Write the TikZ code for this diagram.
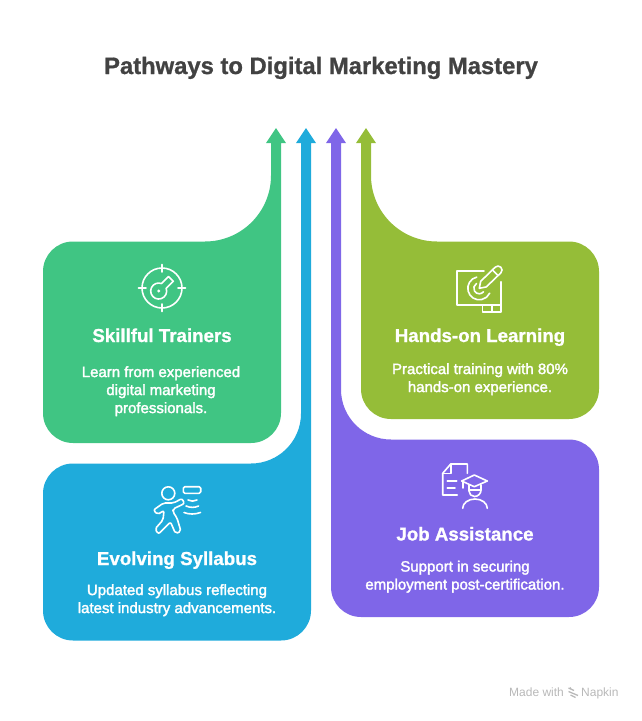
\documentclass[tikz,border=0pt]{standalone}
\usepackage{fontspec}
\setmainfont{Liberation Sans}
\newfontfamily\descfont[FakeBold=2]{Liberation Sans}
\newfontfamily\headfont[FakeBold=1]{Liberation Sans Bold}
\usetikzlibrary{positioning}
\definecolor{trainers}{HTML}{40C583}
\definecolor{syllabus}{HTML}{1FABDB}
\definecolor{assist}{HTML}{7F66E8}
\definecolor{handson}{HTML}{95BD38}
\definecolor{titlegray}{HTML}{424242}
\definecolor{markgray}{HTML}{B8B8B8}
\tikzset{
    heading/.style={text=white, font=\fontsize{18.7}{20}\selectfont\headfont, inner sep=0pt, anchor=base, text centered},
    desc/.style={text=white, font=\fontsize{15}{18}\selectfont\descfont, inner sep=0pt, align=center},
    icon/.style={draw=white, line width=1.6pt, line join=round, line cap=round}
}

\begin{document}
\begin{tikzpicture}[x=1pt, y=-1pt]
    \useasboundingbox (0,0) rectangle (642,721);

    \node[text=titlegray, font=\fontsize{23.8}{28}\selectfont\headfont, inner sep=0pt, anchor=base] (title) at (321,74) {Pathways to Digital Marketing Mastery};

    % the four arrows
    \fill[trainers] (276,128) -- (286,143) -- (281,143) -- (281,413) arc (0:90:30) -- (73,443) arc (90:180:30) -- (43,271.5) arc (180:270:30) -- (205,241.5) arc (90:0:66) -- (271,143) -- (266,143) -- cycle;
    \fill[syllabus] (306,128) -- (316,143) -- (311,143) -- (311,610.5) arc (0:90:30) -- (73,640.5) arc (90:180:30) -- (43,493.5) arc (180:270:30) -- (251,463.5) arc (90:0:50) -- (301,143) -- (296,143) -- cycle;
    \fill[assist] (336,128) -- (346,143) -- (341,143) -- (341,389.5) arc (180:90:50) -- (569,439.5) arc (270:360:30) -- (599,587) arc (0:90:30) -- (361,617) arc (90:180:30) -- (331,143) -- (326,143) -- cycle;
    \fill[handson] (366,128) -- (376,143) -- (371,143) -- (371,175.5) arc (180:90:66) -- (569,241.5) arc (270:360:30) -- (599,389) arc (0:90:30) -- (391,419) arc (90:180:30) -- (361,143) -- (356,143) -- cycle;

    % texts
    \node[heading] (trainers_head) at (162,342) {Skillful Trainers};
    \node[desc, below = 24pt of trainers_head.base, anchor=north, xshift=-1pt] (trainers_desc) {Learn from experienced\\digital marketing\\professionals.};
    \node[heading] (handson_head) at (480,342) {Hands-on Learning};
    \node[desc, below = 21pt of handson_head.base, anchor=north] (handson_desc) {Practical training with 80\%\\hands-on experience.};
    \node[heading] (syllabus_head) at (177,565) {Evolving Syllabus};
    \node[desc, below = 19pt of syllabus_head.base, anchor=north] (syllabus_desc) {Updated syllabus reflecting\\latest industry advancements.};
    \node[heading] (assist_head) at (465,540.5) {Job Assistance};
    \node[desc, below = 20pt of assist_head.base, anchor=north] (assist_desc) {Support in securing\\employment post-certification.};

    % key in a target
    \draw[icon] (162,288) circle (20);
    \draw[icon] (162,264.5) -- (162,272) (162,304) -- (162,311.5) (138.5,288) -- (146,288) (178,288) -- (185.5,288);
    \draw[icon] (166.2,288.3) arc (-20:290:8) -- (168.5,276.5) -- (173.3,281.3) -- cycle;
    \fill[white] (158.7,291) circle (1.6);

    % tablet and pencil
    \draw[icon] (484,270.7) -- (456.7,270.7) -- (456.7,305) -- (501,305);
    \draw[icon] (501,281.7) -- (501,311.7) -- (482.5,311.7) -- (482.5,305) (492,305) -- (492,311.7);
    \draw[icon] (479.3,288.3) -- (480.7,281.3) -- (495.2,267.2) arc (-135:45:4) -- (486.3,286.9) -- cycle;
    \draw[icon] (492.6,270) -- (498,275.4);
    \draw[icon] (476.7,277.1) arc (257:25:11.5);
    \draw[icon] (476.5,283.5) arc (240:40:5.5);

    % runner
    \draw[icon] (168.3,493.3) circle (6.5);
    \draw[icon, rounded corners=1.5pt] (183.3,486.7) rectangle (200.7,493.3);
    \draw[icon, rounded corners=2pt] (182,498.5) -- (173.5,503) -- (163.5,503) -- (153.5,510) -- (157.5,514.5) -- (164,510.5) -- (163,520) -- (155,529) -- (158.5,534) -- (170.5,522) -- (175.5,533.5) -- (181,531.5) -- (177,518) -- (173,512) -- (173,509) -- (184.5,503.5) -- cycle;
    \draw[icon] (188,500) .. controls (191,501.5) and (194,501.5) .. (197,500);
    \draw[icon] (186,506) .. controls (190,507.8) and (195,507.8) .. (198.5,506);
    \draw[icon] (184,512.5) .. controls (189,514.5) and (195,514.5) .. (200.5,512.5);

    % document and graduate
    \draw[icon] (467.3,473.3) -- (467.3,464) -- (450.7,464) -- (442.7,473.3) -- (442.7,495) -- (457.3,495);
    \draw[icon] (450.7,464) -- (450.7,473.3) -- (442.7,473.3);
    \draw[icon] (447.3,481) -- (456.7,481) (447.3,487.7) -- (455,487.7);
    \draw[icon] (461.7,481) -- (474.3,475) -- (487.3,481) -- (474.3,486.7) -- cycle;
    \draw[icon] (462.7,481) -- (462.7,488);
    \draw[icon] (469,485) -- (469,491) arc (180:90:5.5) arc (90:0:6.5) -- (481,485);
    \draw[icon] (469,490) -- (481,490);
    \draw[icon] (462.7,508.3) arc (180:360:12.3 and 9.3);

    % footer mark
    \node[text=markgray, font=\fontsize{12}{14}\selectfont, inner sep=0pt, anchor=base west] (made) at (509,696) {Made with};
    \node[text=markgray, font=\fontsize{12}{14}\selectfont, inner sep=0pt, anchor=base west] (napkin) at (581,696) {Napkin};
    \draw[markgray, line width=1.3pt] (568.5,688) -- (574,690.5) (568.5,691.5) -- (578,695.5) (570.5,695) -- (575.5,697.5) (570,687.5) -- (571,689);
\end{tikzpicture}
\end{document}
